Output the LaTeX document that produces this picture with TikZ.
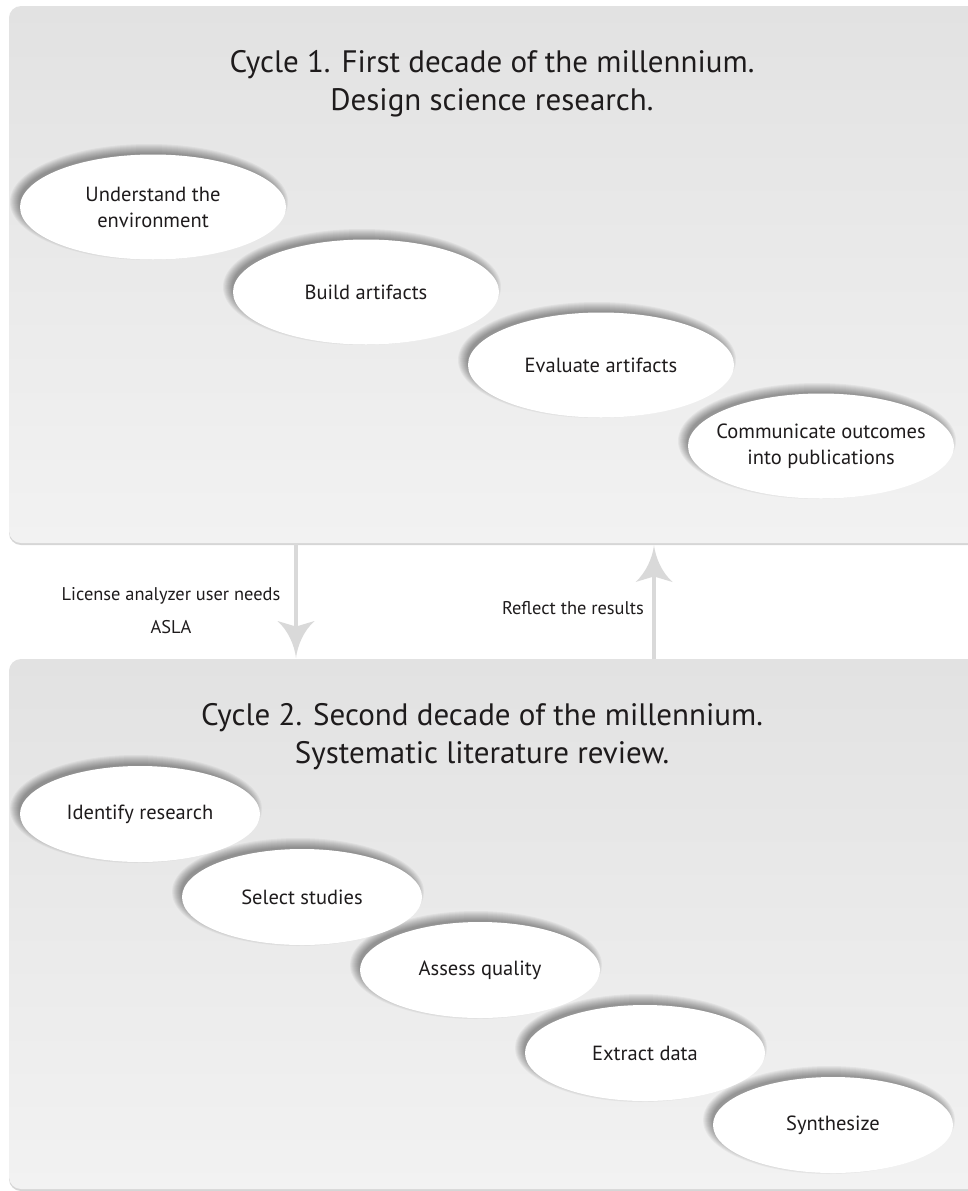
\documentclass[tikz,border=0pt]{standalone}
\usepackage{fontspec}
\setmainfont{PT Sans}
\usetikzlibrary{shapes.geometric,arrows.meta}

\definecolor{panelTop}{HTML}{E2E2E2}
\definecolor{panelBot}{HTML}{F2F2F2}
\definecolor{panelEdge}{HTML}{D6D6D6}
\definecolor{arrowgray}{HTML}{D9D9D9}
\definecolor{ink}{HTML}{1E1B1C}

% flared arrow head with concave flanks
\pgfdeclarearrow{
  name=Flare,
  parameters={\the\pgfarrowlength,\the\pgfarrowwidth},
  setup code={
    \pgfarrowssettipend{0pt}
    \pgfarrowssetlineend{-.6\pgfarrowlength}
    \pgfarrowssetvisualbackend{-\pgfarrowlength}
    \pgfarrowssetbackend{-\pgfarrowlength}
    \pgfarrowssavethe\pgfarrowlength
    \pgfarrowssavethe\pgfarrowwidth
  },
  drawing code={
    \pgfpathmoveto{\pgfpointorigin}
    \pgfpathcurveto{\pgfpoint{-.35\pgfarrowlength}{.04\pgfarrowwidth}}{\pgfpoint{-.75\pgfarrowlength}{.22\pgfarrowwidth}}{\pgfpoint{-\pgfarrowlength}{.5\pgfarrowwidth}}
    \pgfpathlineto{\pgfpoint{-.85\pgfarrowlength}{0pt}}
    \pgfpathlineto{\pgfpoint{-\pgfarrowlength}{-.5\pgfarrowwidth}}
    \pgfpathcurveto{\pgfpoint{-.75\pgfarrowlength}{-.22\pgfarrowwidth}}{\pgfpoint{-.35\pgfarrowlength}{-.04\pgfarrowwidth}}{\pgfpointorigin}
    \pgfpathclose
    \pgfusepathqfill
  },
  defaults={length=37pt,width=37pt}
}

\tikzset{
  panel/.style={top color=panelTop,bottom color=panelBot,rounded corners=12pt},
  panelshadow/.style={fill=panelEdge,rounded corners=12pt},
  bubble/.style={ellipse,fill=white,inner xsep=-70pt,inner ysep=-25pt,
    minimum width=266pt,minimum height=105pt,align=center,text=ink,
    font=\fontsize{20.5}{26}\selectfont},
  smallbubble/.style={bubble,minimum width=240pt,minimum height=96pt},
  heading/.style={align=center,text=ink,font=\fontsize{31}{38}\selectfont},
  caption/.style={align=center,text=ink,font=\fontsize{18.4}{33}\selectfont},
  flow/.style={draw=arrowgray,line width=4pt,-{Flare[length=37pt,width=37pt]}},
}

% soft shadow thrown up and to the left of a bubble: centre x, centre y, rx, ry
\newcommand\bubbleshade[4]{%
  \foreach \k in {0,...,9}{%
    \fill[black,opacity=0.045] ({#1-4},{#2-5}) ellipse [x radius={#3+6-\k}, y radius={#4+6-\k}];
  }%
}

\begin{document}
\begin{tikzpicture}[x=1pt,y=-1pt]
\useasboundingbox (0,0) rectangle (968,1191);
\begin{scope}
\clip (0,0) rectangle (968,1191);

% panels
\fill[panelshadow] (9,8) rectangle (990,545);
\shade[panel] (9,6) rectangle (990,543);
\fill[panelshadow] (9,661) rectangle (990,1191);
\shade[panel] (9,659) rectangle (990,1189);

% headings
\node[heading] (t1) at (492,84) {Cycle 1. First decade of the millennium.\\Design science research.};
\node[heading] (t2) at (482,737) {Cycle 2. Second decade of the millennium.\\Systematic literature review.};

% shadows behind the bubbles
\bubbleshade{153}{207}{133}{52}
\bubbleshade{366}{292}{133}{52}
\bubbleshade{601}{365}{133}{52}
\bubbleshade{821}{446}{133}{52}
\bubbleshade{140}{814}{120}{48}
\bubbleshade{302}{897}{120}{48}
\bubbleshade{480}{970}{120}{48}
\bubbleshade{645}{1053}{120}{48}
\bubbleshade{833}{1125}{120}{48}

% first cycle
\node[bubble] (u) at (153,207) {Understand the\\environment};
\node[bubble] (b) at (366,292) {Build artifacts};
\node[bubble] (e) at (601,365) {Evaluate artifacts};
\node[bubble] (c) at (821,446) {Communicate outcomes\\into publications};

% second cycle
\node[smallbubble] (i) at (140,814) {Identify research};
\node[smallbubble] (s) at (302,897) {Select studies};
\node[smallbubble] (q) at (480,970) {Assess quality};
\node[smallbubble] (x) at (645,1053) {Extract data};
\node[smallbubble] (y) at (833,1125) {Synthesize};

% links between the cycles
\coordinate (downFrom) at (296,543);
\coordinate (downTo) at (296,658);
\coordinate (upFrom) at (654,659);
\coordinate (upTo) at (654,545);
\draw[flow] (downFrom) -- (downTo);
\draw[flow] (upFrom) -- (upTo);

\node[caption] (l1) at (171,611) {License analyzer user needs\\ASLA};
\node[caption] (l2) at (573,608) {Reflect the results};
\end{scope}
\end{tikzpicture}
\end{document}
